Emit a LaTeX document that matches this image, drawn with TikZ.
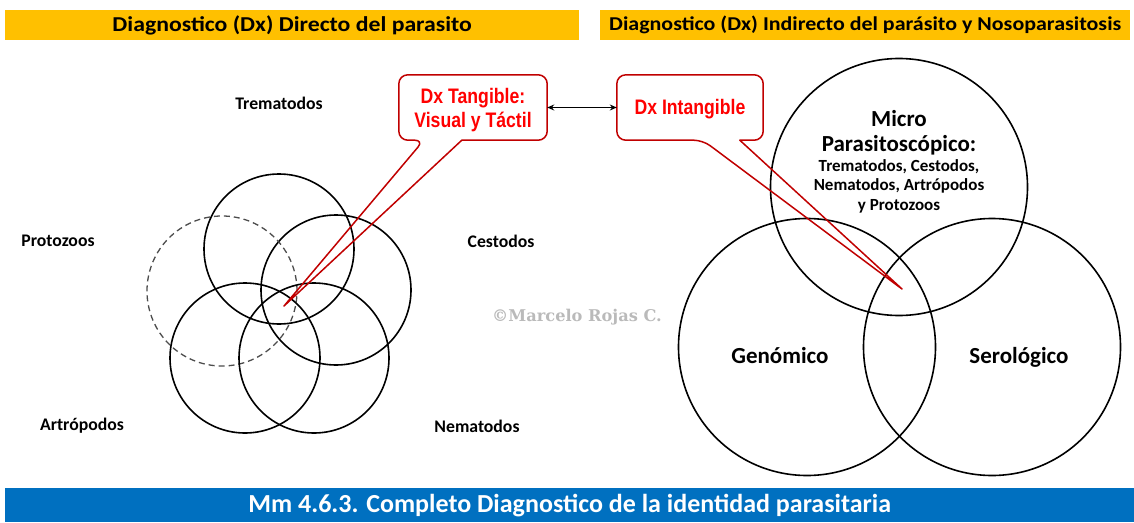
\documentclass[tikz,border=0pt]{standalone}
\usepackage{fontspec}
\setmainfont{Carlito}
\newfontfamily\hdrf[FakeStretch=1.12]{Carlito}
\newfontfamily\arialf[FakeStretch=0.84]{Liberation Sans}
\newfontfamily\wmf{DejaVu Serif}
\usetikzlibrary{arrows.meta,calc}
\definecolor{hdr}{HTML}{FFC000}
\definecolor{foot}{HTML}{0070C0}
\definecolor{cred}{HTML}{C00000}
\definecolor{tred}{HTML}{FF0000}
\begin{document}
\begin{tikzpicture}[x=1pt,y=-1pt,
  hdrbar/.style={fill=hdr, draw=none, minimum height=30, inner sep=0, anchor=north west},
  footbar/.style={fill=foot, draw=none, text=white, minimum height=34, inner sep=0, anchor=north west,
    font=\fontsize{26}{30}\selectfont\bfseries},
  vc/.style={circle, draw, line width=1.6, minimum size=150, inner sep=0},
  rc/.style={circle, draw, line width=1.6, minimum size=257, inner sep=0},
  lbl/.style={font=\fontsize{17.7}{20}\selectfont\bfseries, inner sep=0},
  big/.style={font=\fontsize{23}{26}\selectfont\bfseries, inner sep=0},
  small/.style={font=\fontsize{17}{19.5}\selectfont\bfseries, align=center, inner sep=0},
  cbox/.style={minimum width=148, minimum height=65, inner sep=0},
  ctext/.style={anchor=base, inner sep=0, text=tred, font=\arialf\bfseries\fontsize{21}{24}\selectfont},
  callout/.style={draw=cred, line width=1.5, rounded corners=9, line join=round},
  dbl/.style={{Stealth[length=7pt,width=6pt]}-{Stealth[length=7pt,width=6pt]}, line width=1.2}
]
\useasboundingbox (0,0) rectangle (1134,522);

% header and footer bars
\node[hdrbar, minimum width=574, font=\hdrf\bfseries\fontsize{21.2}{25}\selectfont] (hl) at (5,10) {Diagnostico (Dx) Directo del parasito};
\node[hdrbar, minimum width=530, font=\hdrf\bfseries\fontsize{19.6}{24}\selectfont] (hr) at (600,10) {Diagnostico (Dx) Indirecto del parásito y Nosoparasitosis};
\node[footbar, minimum width=1129] (ft) at (5,488) {Mm 4.6.3. Completo Diagnostico de la identidad parasitaria};

% left venn
\node[vc] (ctre) at (279,249) {};
\node[vc] (cces) at (336,290) {};
\node[vc, draw=black!70, line width=1.3, dash pattern=on 6pt off 4pt] (cpro) at (222,291) {};
\node[vc] (cart) at (245,358) {};
\node[vc] (cnem) at (314,358) {};

\node[lbl] (ltre) at (279,103) {Trematodos};
\node[lbl] (lpro) at (58,241) {Protozoos};
\node[lbl] (lces) at (501,241) {Cestodos};
\node[lbl] (lart) at (82,426) {Artrópodos};
\node[lbl] (lnem) at (477,426) {Nematodos};

% right venn
\node[rc] (cmic) at (899,187) {};
\node[rc] (cgen) at (807,347) {};
\node[rc] (cser) at (992,347) {};

\node[big] (tmic1) at (899,119) {Micro};
\node[big] (tmic2) at (899,145) {Parasitoscópico:};
\node[small] (tmic3) at (899,186) {Trematodos, Cestodos,\\Nematodos, Artrópodos\\y Protozoos};
\node[big, anchor=base] (tgen) at (780,363) {Genómico};
\node[big, anchor=base] (tser) at (1019,363) {Serológico};

% watermark
\node[font=\wmf\bfseries\fontsize{16.2}{19}\selectfont, text=black!27] (wm) at (577,317) {©Marcelo Rojas C.};

% callouts
\node[cbox] (tang) at (473,107.5) {};
\node[cbox, minimum width=146] (intg) at (690,107.5) {};
\node[ctext] (tang1) at (473,103) {Dx Tangible:};
\node[ctext] (tang2) at (473,127) {Visual y Táctil};
\node[ctext] (intg1) at (690,114.5) {Dx Intangible};
\coordinate (tip1) at (284,306);
\coordinate (tip2) at (902,289);

\draw[callout] ($(tang.south west)+(63,0)$) -- (tang.south east) -- (tang.north east)
  -- (tang.north west) -- (tang.south west) -- ($(tang.south west)+(25,0)$)
  [sharp corners] -- (tip1) -- cycle;
\draw[callout] ($(intg.south west)+(123,0)$) -- (intg.south east) -- (intg.north east)
  -- (intg.north west) -- (intg.south west) -- ($(intg.south west)+(86,0)$)
  [sharp corners] -- (tip2) -- cycle;

\draw[dbl] (tang.east) -- (intg.west);
\end{tikzpicture}
\end{document}
